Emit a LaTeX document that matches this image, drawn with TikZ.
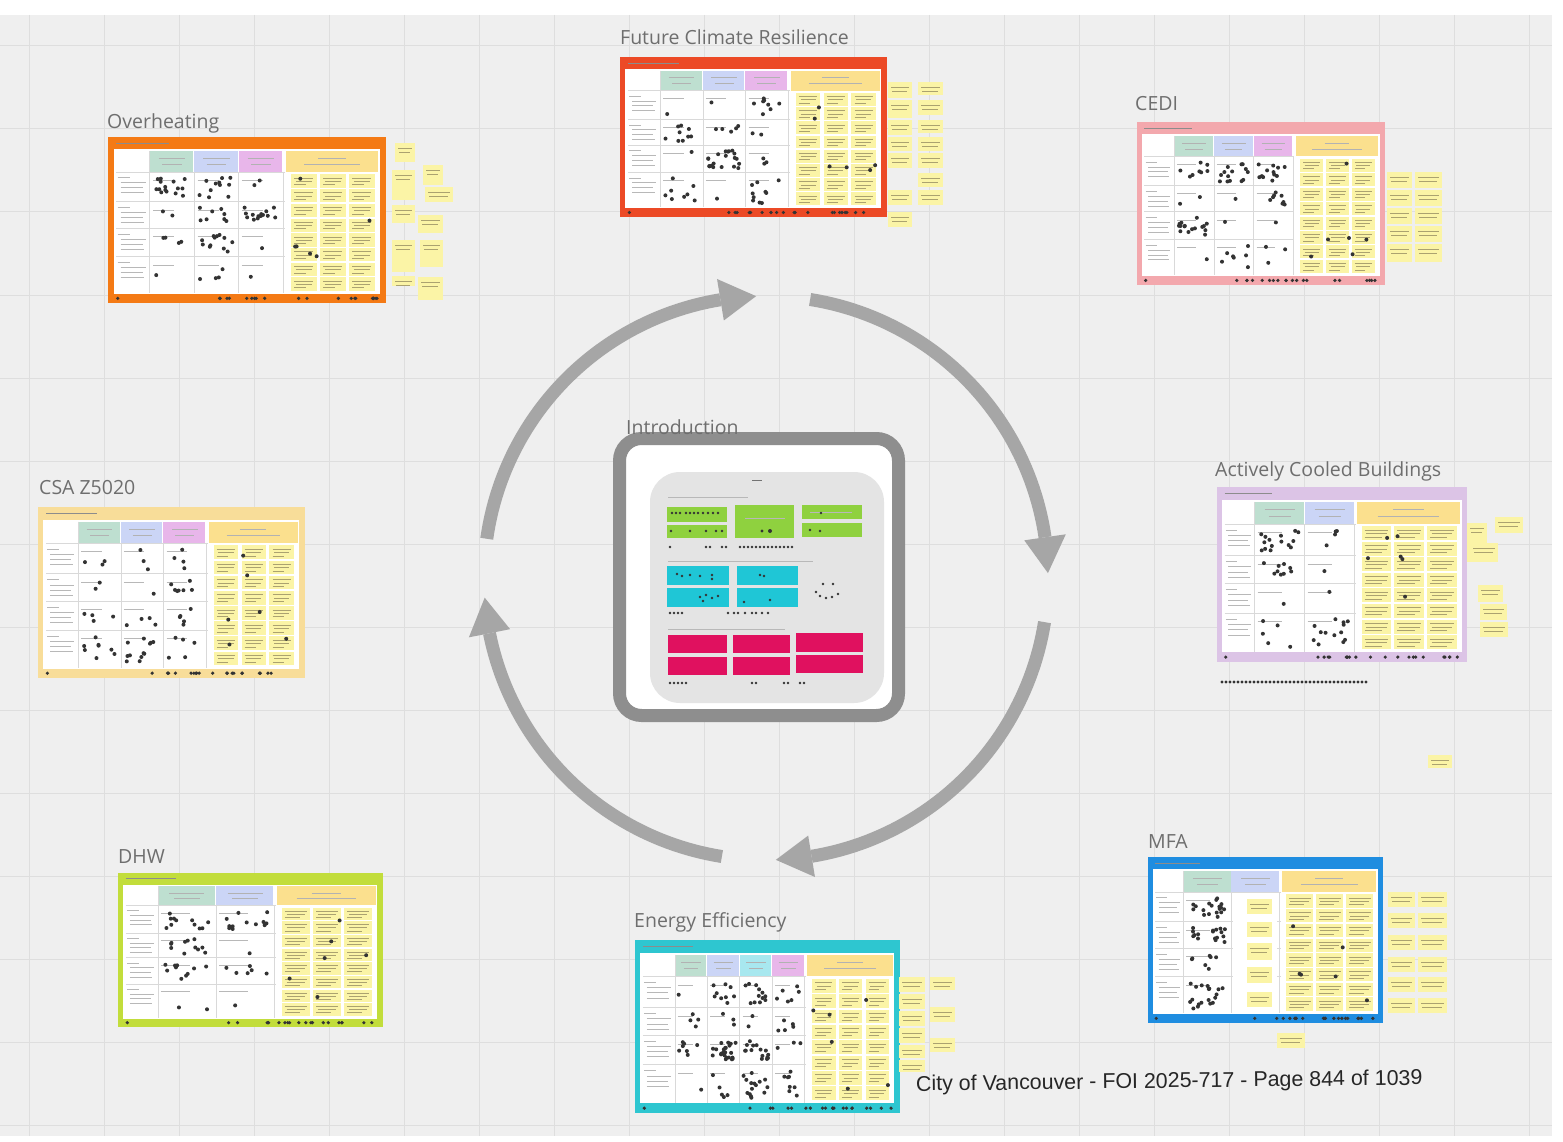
\documentclass[tikz,border=0pt]{standalone}
\usepackage{fontspec}
\newfontfamily\lblfont{Open Sans}
\newfontfamily\footfont{Liberation Sans}
\usetikzlibrary{calc}
\definecolor{bgc}{HTML}{EFEFEF}
\definecolor{gridc}{HTML}{DEDEDE}
\definecolor{lblgray}{HTML}{6E6E6E}
\definecolor{arrgray}{HTML}{A6A6A6}
\definecolor{introgray}{HTML}{8E8E8E}
\definecolor{introin}{HTML}{E4E4E4}
\definecolor{hgreen}{HTML}{BEDFD0}
\definecolor{hblue}{HTML}{CBD5F6}
\definecolor{hpurple}{HTML}{E8B6EA}
\definecolor{hcyan}{HTML}{A8E8EF}
\definecolor{hyellow}{HTML}{FBE08E}
\definecolor{stickyc}{HTML}{FBF4A6}
\definecolor{sttxtc}{HTML}{ABA270}
\definecolor{frOrange}{HTML}{F47A15}
\definecolor{frRed}{HTML}{EC4A26}
\definecolor{frPink}{HTML}{F3A8AD}
\definecolor{frPale}{HTML}{F8DD99}
\definecolor{frLav}{HTML}{DCC4E6}
\definecolor{frLime}{HTML}{C2DD3B}
\definecolor{frCyan}{HTML}{2EC6D0}
\definecolor{frBlue}{HTML}{1F8DE0}
\definecolor{igreen}{HTML}{8FD13F}
\definecolor{icyan}{HTML}{1FC6D6}
\definecolor{imag}{HTML}{E0115F}
\tikzset{
  gridl/.style={draw=gridc, line width=1pt},
  lbl/.style={font=\lblfont\fontsize{19.5}{22}\selectfont, text=lblgray, inner sep=0pt, anchor=base west},
  sticky/.style={fill=stickyc},
  sttxt/.style={draw=sttxtc, line width=0.7pt},
  hdtxt/.style={draw=black!30, line width=0.6pt},
  celltxt/.style={draw=black!28, line width=0.6pt},
  tblline/.style={draw=black!15, line width=0.5pt},
  dotc/.style={fill=black!80},
  arcline/.style={draw=arrgray, line width=13pt, line join=round},
  arrhead/.style={fill=arrgray},
}
% board: x, y, W, H, frame colour, n headers, header colours, yellow start, seed
\newcommand\mboard[9]{%
\begin{scope}[shift={(#1,#2)},x=#3pt,y=-#4pt]
  \pgfmathsetseed{#9}
  \fill[#5] (0,0) rectangle (1,1);
  \fill[white] (0.02,0.075) rectangle (0.978,0.945);
  \draw[line width=0.8pt,black!45] (0.03,0.038) -- (0.22,0.038);
  \pgfmathsetmacro\bcw{(#8-0.16)/#6}
  \foreach \hc [count=\hi] in {#7}{
    \fill[\hc] ({0.15+(\hi-1)*\bcw},0.085) rectangle ({0.15+\hi*\bcw-0.004},0.21);
    \draw[hdtxt] ({0.15+(\hi-0.8)*\bcw},0.13) -- ({0.15+(\hi-0.2)*\bcw},0.13);
    \draw[hdtxt] ({0.15+(\hi-0.72)*\bcw},0.165) -- ({0.15+(\hi-0.28)*\bcw},0.165);
    \draw[tblline] ({0.15+\hi*\bcw},0.21) -- ({0.15+\hi*\bcw},0.94);
  }
  \draw[tblline] (0.15,0.085) -- (0.15,0.94);
  \fill[hyellow] (#8,0.085) rectangle (0.972,0.21);
  \draw[hdtxt] ({#8+0.35*(0.972-#8)},0.13) -- ({#8+0.65*(0.972-#8)},0.13);
  \draw[hdtxt] ({#8+0.2*(0.972-#8)},0.165) -- ({#8+0.8*(0.972-#8)},0.165);
  \foreach \yy in {0.21,0.39,0.55,0.72}{\draw[tblline] (0.03,\yy) -- ({#8-0.005},\yy);}
  % label column text
  \foreach \ya/\yb in {0.21/0.39,0.39/0.55,0.55/0.72,0.72/0.94}{
    \draw[celltxt] (0.035,{\ya+0.035}) -- (0.08,{\ya+0.035});
    \draw[celltxt] (0.045,{\ya+0.065}) -- (0.135,{\ya+0.065});
    \draw[celltxt] (0.045,{\ya+0.095}) -- (0.125,{\ya+0.095});
    \draw[celltxt] (0.045,{\ya+0.125}) -- (0.13,{\ya+0.125});
  }
  % cells and dots
  \foreach \ci in {1,...,#6}{
    \foreach \ya/\yb in {0.21/0.39,0.39/0.55,0.55/0.72,0.72/0.94}{
      \pgfmathtruncatemacro\bnd{1+rnd*rnd*24}
      \draw[celltxt] ({0.15+(\ci-1)*\bcw+0.012},{\ya+0.05}) -- ({0.15+(\ci-0.45)*\bcw},{\ya+0.05});
      \foreach \dd in {1,...,\bnd}{
        \fill[dotc] ({0.15+(\ci-1)*\bcw+0.12*\bcw+0.76*\bcw*rnd},{\ya+0.035+(\yb-\ya-0.06)*rnd}) circle[radius=2pt];}
    }
  }
  % sticky notes in the yellow section
  \pgfmathsetmacro\bsw{(0.965-#8-0.012)/3}
  \foreach \sj in {0,1,2}{
    \foreach \sk in {0,...,7}{
      \pgfmathsetmacro\bsx{#8+0.012+\sj*\bsw+0.006}
      \pgfmathsetmacro\bsy{0.225+\sk*0.0887}
      \fill[sticky] (\bsx,\bsy) rectangle ({\bsx+\bsw-0.012},{\bsy+0.08});
      \draw[sttxt] ({\bsx+0.012},{\bsy+0.022}) -- ({\bsx+\bsw-0.024},{\bsy+0.022});
      \draw[sttxt] ({\bsx+0.018},{\bsy+0.042}) -- ({\bsx+\bsw-0.03},{\bsy+0.042});
      \draw[sttxt] ({\bsx+0.012},{\bsy+0.062}) -- ({\bsx+\bsw-0.05},{\bsy+0.062});
    }
  }
  \foreach \dd in {1,...,6}{\fill[dotc] ({#8+0.02+(0.94-#8)*rnd},{0.24+0.65*rnd}) circle[radius=2pt];}
  % dots on the bottom band
  \fill[dotc] (0.035,0.972) circle[radius=1.8pt];
  \foreach \dd in {1,...,20}{\fill[dotc] ({0.4+0.57*rnd},0.972) circle[radius=1.8pt];}
\end{scope}}
\newcommand\stk[4]{%
  \fill[sticky] (#1,#2) rectangle (#3,#4);
  \draw[sttxt] ({#1+3},{#2+5}) -- ({#3-3},{#2+5});
  \draw[sttxt] ({#1+4},{#2+9}) -- ({#3-5},{#2+9});
}
\begin{document}
\begin{tikzpicture}[x=1pt,y=-1pt]
\useasboundingbox (0,0) rectangle (1563,1142);
\fill[white] (0,0) rectangle (1563,1142);
\fill[bgc] (0,15) rectangle (1552,1136);
\foreach \gx in {29,104,...,1550}{\draw[gridl] (\gx,15) -- (\gx,1136);}
\foreach \gy in {46,129,...,1136}{\draw[gridl] (0,\gy) -- (1552,\gy);}

% ---------- circular arrows ----------
\begin{scope}[shift={(766,578)}]
  \foreach \sa/\ea in {9/88, 99/176, 188/268, 279/359}{
    \pgfmathsetmacro\eb{\ea-7.3}
    \draw[arcline] plot[domain=\sa:\eb, samples=50] ({282*cos(\x)},{282*sin(\x)});
    \fill[arrhead] (\eb:303) -- (\ea:282) -- (\eb:261) -- cycle;
  }
\end{scope}

% ---------- boards ----------
\mboard{108}{137}{278}{166}{frOrange}{3}{hgreen,hblue,hpurple}{0.64}{11}
\mboard{620}{57}{267}{160}{frRed}{3}{hgreen,hblue,hpurple}{0.64}{23}
\mboard{1137}{122}{248}{163}{frPink}{3}{hgreen,hblue,hpurple}{0.64}{37}
\mboard{38}{507}{267}{171}{frPale}{3}{hgreen,hblue,hpurple}{0.64}{41}
\mboard{1217}{487}{250}{175}{frLav}{2}{hgreen,hblue}{0.56}{53}
\mboard{118}{873}{265}{154}{frLime}{2}{hgreen,hblue}{0.6}{67}
\mboard{635}{940}{265}{173}{frCyan}{4}{hgreen,hblue,hcyan,hpurple}{0.65}{79}
\mboard{1148}{857}{235}{166}{frBlue}{2}{hgreen,hblue}{0.57}{83}

% ---------- loose sticky notes ----------
% Overheating
\stk{395}{143}{415}{162}
\stk{392}{170}{415}{200}
\stk{423}{165}{443}{185}
\stk{425}{187}{453}{202}
\stk{392}{205}{415}{223}
\stk{418}{215}{443}{233}
\stk{392}{240}{415}{272}
\stk{420}{240}{443}{267}
\stk{392}{276}{415}{286}
\stk{418}{277}{443}{300}
% Future Climate Resilience
\foreach \ya/\yb in {82/98,100/118,120/135,137/151,153/168,190/205,212/227}{\stk{888}{\ya}{912}{\yb}}
\foreach \ya/\yb in {82/95,100/115,120/133,137/151,153/168,173/187,190/205}{\stk{918}{\ya}{943}{\yb}}
% CEDI
\foreach \ya/\yb in {172/188,190/206,208/224,226/242,244/262}{\stk{1387}{\ya}{1412}{\yb}\stk{1415}{\ya}{1442}{\yb}}
% Actively Cooled Buildings
\stk{1467}{523}{1487}{562}
\stk{1495}{517}{1523}{533}
\stk{1470}{543}{1498}{562}
\stk{1478}{585}{1503}{602}
\stk{1480}{604}{1507}{620}
\stk{1480}{622}{1508}{637}
\stk{1428}{755}{1452}{768}
\foreach \dx in {1222,1226,...,1366}{\fill[dotc] (\dx,682) circle[radius=1.6pt];}
% Energy Efficiency
\foreach \ya/\yb in {977/992,994/1009,1011/1026,1028/1043,1045/1058,1060/1072}{\stk{899}{\ya}{925}{\yb}}
\stk{930}{977}{955}{990}
\stk{930}{1007}{955}{1022}
\stk{930}{1038}{955}{1052}
% MFA
\fill[white] (1233,894) rectangle (1277,1010);
\foreach \ya/\yb in {899/914,922/937,943/960,967/983,992/1007}{\stk{1247}{\ya}{1272}{\yb}}
\foreach \ya/\yb in {892/907,913/928,935/950,957/972,977/992,998/1013}{\stk{1388}{\ya}{1415}{\yb}\stk{1418}{\ya}{1447}{\yb}}
\stk{1277}{1033}{1305}{1048}

% ---------- Introduction ----------
\draw[line width=13pt, draw=introgray, fill=white, rounded corners=22pt] (619.5,438.5) rectangle (898.5,715.5);
\fill[introin, rounded corners=30pt] (650,472) rectangle (884,703);
\draw[line width=1pt,black!55] (752,480) -- (762,480);
\draw[celltxt] (668,497) -- (748,497);
\fill[igreen] (667,507) rectangle (727,522);
\fill[igreen] (667,525) rectangle (727,538);
\fill[igreen] (735,505) rectangle (794,538);
\fill[igreen] (802,505) rectangle (862,519);
\fill[igreen] (802,523) rectangle (862,537);
\draw[celltxt] (745,518) -- (785,518);
\draw[celltxt] (810,512) -- (852,512);
\foreach \px in {672,676,680,686,690,694,698,703,708,713,718}{\fill[dotc] (\px,513) circle[radius=1.4pt];}
\foreach \px in {671,690,706,716,722}{\fill[dotc] (\px,531) circle[radius=1.4pt];}
\fill[dotc] (762,531) circle[radius=1.6pt];
\fill[dotc] (770,531) circle[radius=2pt];
\fill[dotc] (821,513) circle[radius=1.4pt];
\fill[dotc] (810,530) circle[radius=1.4pt];
\fill[dotc] (820,531) circle[radius=1.4pt];
\foreach \px in {670,706,710,722,726,740,744,748,752,756,760,764,768,772,776,780,784,788,792}{\fill[dotc] (\px,547) circle[radius=1.4pt];}
\draw[celltxt] (668,561) -- (813,561);
\fill[icyan] (667,566) rectangle (729,585);
\fill[icyan] (667,588) rectangle (729,607);
\fill[icyan] (737,566) rectangle (798,585);
\fill[icyan] (737,588) rectangle (798,607);
\foreach \px/\py in {677/574,682/576,690/575,700/576,712/575,712/579,700/597,706/595,712/598,718/596,703/601,760/575,764/576,744/602,770/600}{\fill[dotc] (\px,\py) circle[radius=1.4pt];}
\foreach \px/\py in {823/584,833/584,816/592,820/596,826/598,832/597,838/594}{\fill[dotc] (\px,\py) circle[radius=1.4pt];}
\foreach \px in {670,674,678,682,728,734,738,745,752,756,762,768}{\fill[dotc] (\px,613) circle[radius=1.4pt];}
\draw[celltxt] (668,629) -- (785,629);
\fill[imag] (668,635) rectangle (727,653);
\fill[imag] (668,657) rectangle (727,675);
\fill[imag] (733,635) rectangle (790,653);
\fill[imag] (733,657) rectangle (790,675);
\fill[imag] (796,633) rectangle (863,652);
\fill[imag] (796,655) rectangle (863,673);
\foreach \px in {670,674,678,682,686,752,756,784,788,800,804}{\fill[dotc] (\px,683) circle[radius=1.4pt];}

% ---------- labels ----------
\node[lbl] (lOver) at (107,129) {Overheating};
\node[lbl] (lFcr) at (620,45) {Future Climate Resilience};
\node[lbl] (lCedi) at (1135,111) {CEDI};
\node[lbl] (lCsa) at (39,494) {CSA Z5020};
\node[lbl] (lAcb) at (1215,476) {Actively Cooled Buildings};
\node[lbl] (lDhw) at (118,863) {DHW};
\node[lbl] (lEe) at (634,927) {Energy Efficiency};
\node[lbl] (lMfa) at (1148,848) {MFA};
\node[lbl] (lIntro) at (626,434) {Introduction};

\node[font=\footfont\fontsize{21.4}{25}\selectfont, text=black!85, inner sep=0pt, anchor=base west, rotate=0.7] (foot) at (916,1091) {City of Vancouver - FOI 2025-717 - Page 844 of 1039};
\end{tikzpicture}
\end{document}
